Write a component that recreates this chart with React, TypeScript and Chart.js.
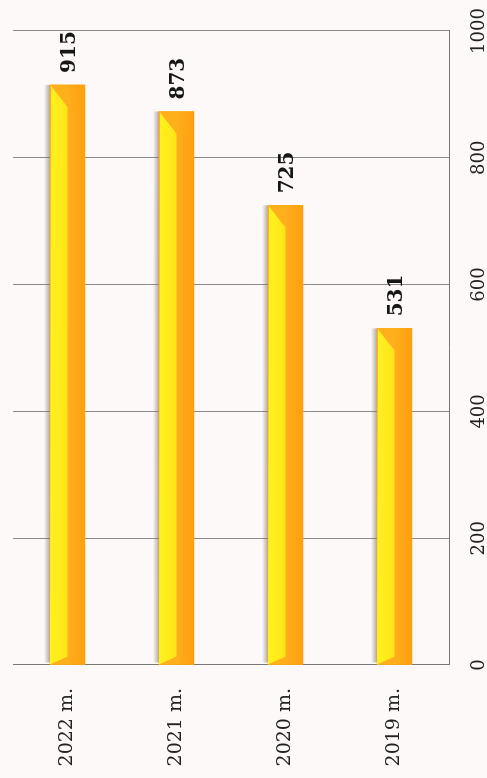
import React, { useEffect, useRef } from "react";
import { Chart, registerables } from "chart.js";

Chart.register(...registerables);

const categories = ["2022 m.", "2021 m.", "2020 m.", "2019 m."];
const values = [915, 873, 725, 531];
const valueMin = 0;
const valueMax = 1000;
const valueStep = 200;

const W = 778;
const H = 487;
const BG = "#fcf9f8";

const barStyle = {
  id: "barStyle",
  beforeDatasetsDraw(chart: any) {
    const ctx = chart.ctx;
    const meta = chart.getDatasetMeta(0);
    meta.data.forEach((el: any) => {
      const p = el.getProps(["x", "y", "base", "height"], true);
      const top = p.y - p.height / 2;
      const g = ctx.createLinearGradient(0, top - 6, 0, top);
      g.addColorStop(0, "rgba(120,100,90,0)");
      g.addColorStop(1, "rgba(120,100,90,0.55)");
      ctx.save();
      ctx.fillStyle = g;
      ctx.fillRect(p.base + 2, top - 6, p.x - p.base - 2, 6);
      ctx.restore();
    });
  },
  afterDatasetsDraw(chart: any) {
    const ctx = chart.ctx;
    const meta = chart.getDatasetMeta(0);
    const data = chart.data.datasets[0].data;
    meta.data.forEach((el: any, i: number) => {
      const p = el.getProps(["x", "y", "base", "height"], true);
      const top = p.y - p.height / 2;
      const bottom = p.y + p.height / 2;
      const cy = p.y;
      ctx.save();
      const og = ctx.createLinearGradient(0, cy, 0, bottom);
      og.addColorStop(0, "#ffae1c");
      og.addColorStop(1, "#ff9f10");
      ctx.fillStyle = og;
      ctx.fillRect(p.base, top, p.x - p.base, p.height);
      const yg = ctx.createLinearGradient(0, top, 0, cy);
      yg.addColorStop(0, "#fff21e");
      yg.addColorStop(1, "#ffe41a");
      ctx.fillStyle = yg;
      ctx.beginPath();
      ctx.moveTo(p.base, top);
      ctx.lineTo(p.x - 1, top + 1);
      ctx.lineTo(p.x - 22, cy);
      ctx.lineTo(p.base + 8, cy);
      ctx.closePath();
      ctx.fill();
      ctx.fillStyle = "#161616";
      ctx.font = "bold 20px 'DejaVu Serif'";
      ctx.textAlign = "left";
      ctx.textBaseline = "middle";
      ctx.fillText(String(data[i]), p.x + 12, p.y + 2);
      ctx.restore();
    });
  },
};

export default function App() {
  const ref = useRef<HTMLCanvasElement | null>(null);

  useEffect(() => {
    document.body.style.margin = "0";
    document.body.style.background = BG;
    const canvas = ref.current!;
    const chart = new Chart(canvas, {
      type: "bar",
      data: {
        labels: categories,
        datasets: [
          {
            data: values,
            backgroundColor: "#ffa816",
            borderWidth: 0,
            barThickness: 35,
          },
        ],
      },
      options: {
        indexAxis: "y",
        responsive: false,
        animation: false,
        devicePixelRatio: 1,
        layout: { padding: { top: 13, right: 31, left: 0, bottom: 0 } },
        plugins: {
          legend: { display: false },
          tooltip: { enabled: false },
        },
        scales: {
          x: {
            position: "bottom",
            min: valueMin,
            max: valueMax,
            ticks: {
              stepSize: valueStep,
              maxRotation: 0,
              minRotation: 0,
              padding: 20,
              color: "#222",
              font: { family: "'DejaVu Serif'", size: 18 },
              callback: (v: any) => String(v),
            },
            grid: {
              color: "#8c8c8c",
              lineWidth: 1,
              drawTicks: false,
            },
            border: { display: true, color: "#777", width: 1 },
            afterFit: (s: any) => {
              s.height = 38;
              s.paddingLeft = 0;
              s.paddingRight = 0;
            },
          },
          y: {
            position: "left",
            ticks: {
              padding: 23,
              color: "#222",
              font: { family: "'DejaVu Serif'", size: 19 },
            },
            grid: { display: false, drawTicks: false },
            border: { display: true, color: "#777", width: 1 },
            afterFit: (s: any) => {
              s.width = 113;
              s.paddingTop = 0;
              s.paddingBottom = 0;
            },
          },
        },
      },
      plugins: [barStyle],
    });
    return () => chart.destroy();
  }, []);

  return (
    <div
      style={{
        position: "fixed",
        left: 0,
        top: 0,
        width: H,
        height: W,
        overflow: "hidden",
        background: BG,
      }}
    >
      <div
        style={{
          position: "absolute",
          left: 0,
          top: 0,
          width: W,
          height: H,
          transformOrigin: "0 0",
          transform: `translateY(${W}px) rotate(-90deg)`,
        }}
      >
        <canvas ref={ref} width={W} height={H} style={{ width: W, height: H, display: "block" }} />
      </div>
    </div>
  );
}
